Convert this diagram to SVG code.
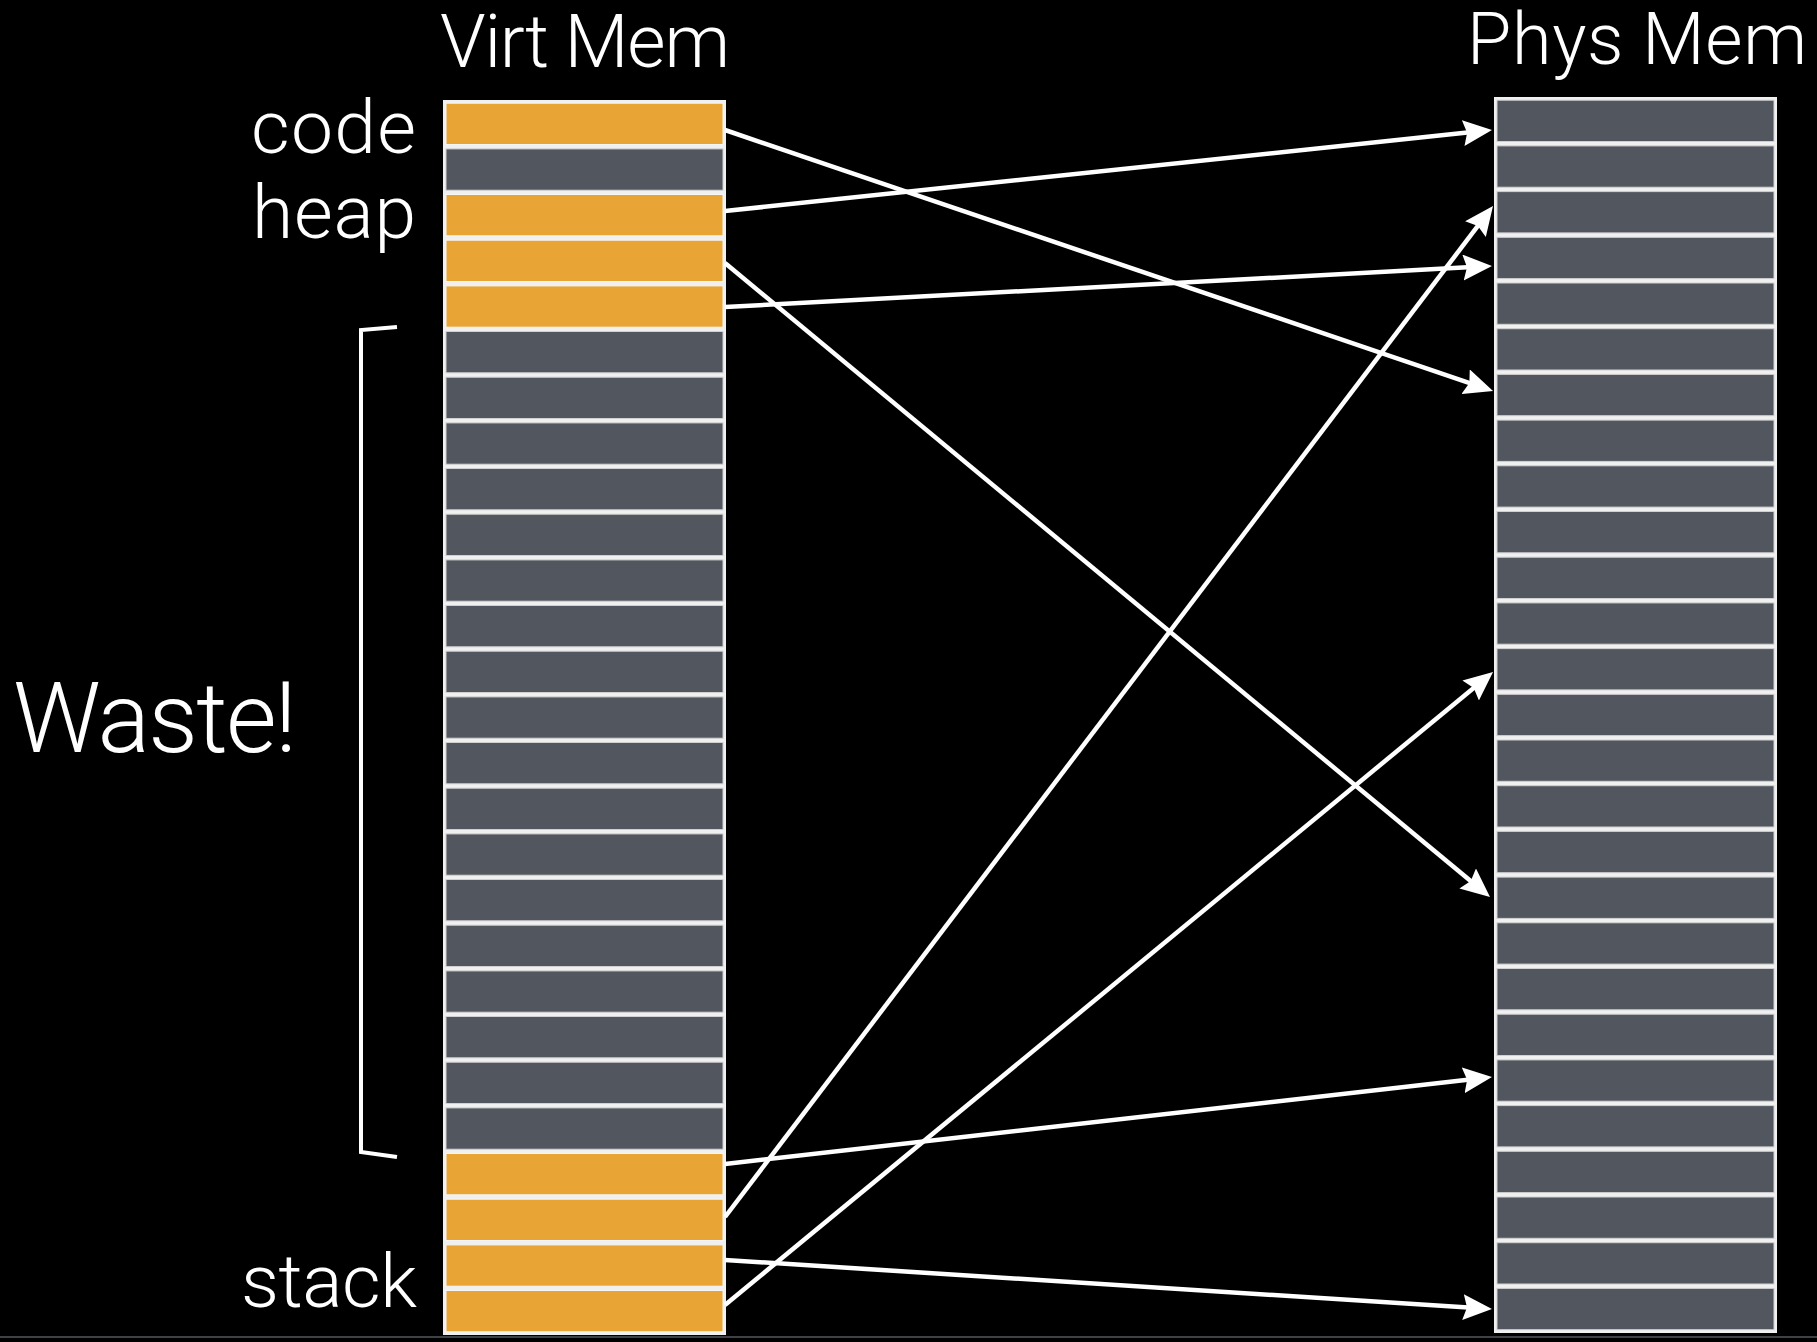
<svg xmlns="http://www.w3.org/2000/svg" width="1817" height="1342" viewBox="0 0 1817 1342">
<style>
.lbl{fill:#ffffff;font-family:Roboto,"Liberation Sans",sans-serif;font-weight:300}
.col{fill:#f0f0f0}
.o{fill:#E8A535;stroke:#f6f6f6;stroke-width:1}
.g{fill:#52575F;stroke:#d0d0d0;stroke-width:1}
.c{stroke:#ffffff;stroke-width:4.5;fill:none;marker-end:url(#ah)}
</style>
<defs>
<marker id="ah" markerUnits="userSpaceOnUse" markerWidth="29" markerHeight="26" viewBox="0 0 29 26" refX="9" refY="13" orient="auto">
<path d="M0,0 L29,13 L0,26 L4,13 z" fill="#ffffff"/>
</marker>
</defs>
<rect x="0" y="0" width="1817" height="1342" fill="#000000"/>
<rect x="0" y="1336" width="1817" height="2" fill="#3e4247"/>

<g id="virt-title"><text class="lbl" x="440" y="67" font-size="74" textLength="290">Virt Mem</text></g>
<g id="phys-title"><text class="lbl" x="1467" y="64" font-size="72" textLength="340">Phys Mem</text></g>
<g id="label-code"><text class="lbl" x="251" y="153" font-size="75" textLength="165">code</text></g>
<g id="label-heap"><text class="lbl" x="252" y="238" font-size="75" textLength="164">heap</text></g>
<g id="label-stack"><text class="lbl" x="241" y="1307" font-size="75" textLength="176">stack</text></g>
<g id="label-waste"><text class="lbl" x="13" y="752" font-size="98" textLength="284">Waste!</text></g>
<g id="waste-bracket"><path d="M397,327 L361,330 L361,1152 L397,1157" stroke="#ffffff" stroke-width="4" fill="none"/></g>

<g id="virt-mem">
<rect class="col" x="443" y="100" width="283" height="1235"/>
<rect class="o" x="446" y="103.2" width="277" height="41.3"/>
<rect class="g" x="446" y="148.9" width="277" height="41.3"/>
<rect class="o" x="446" y="194.5" width="277" height="41.3"/>
<rect class="o" x="446" y="240.2" width="277" height="41.3"/>
<rect class="o" x="446" y="285.9" width="277" height="41.3"/>
<rect class="g" x="446" y="331.5" width="277" height="41.3"/>
<rect class="g" x="446" y="377.2" width="277" height="41.3"/>
<rect class="g" x="446" y="422.9" width="277" height="41.3"/>
<rect class="g" x="446" y="468.5" width="277" height="41.3"/>
<rect class="g" x="446" y="514.2" width="277" height="41.3"/>
<rect class="g" x="446" y="559.9" width="277" height="41.3"/>
<rect class="g" x="446" y="605.5" width="277" height="41.3"/>
<rect class="g" x="446" y="651.2" width="277" height="41.3"/>
<rect class="g" x="446" y="696.9" width="277" height="41.3"/>
<rect class="g" x="446" y="742.5" width="277" height="41.3"/>
<rect class="g" x="446" y="788.2" width="277" height="41.3"/>
<rect class="g" x="446" y="833.9" width="277" height="41.3"/>
<rect class="g" x="446" y="879.5" width="277" height="41.3"/>
<rect class="g" x="446" y="925.2" width="277" height="41.3"/>
<rect class="g" x="446" y="970.9" width="277" height="41.3"/>
<rect class="g" x="446" y="1016.5" width="277" height="41.3"/>
<rect class="g" x="446" y="1062.2" width="277" height="41.3"/>
<rect class="g" x="446" y="1107.9" width="277" height="41.3"/>
<rect class="o" x="446" y="1153.5" width="277" height="41.3"/>
<rect class="o" x="446" y="1199.2" width="277" height="41.3"/>
<rect class="o" x="446" y="1244.9" width="277" height="41.3"/>
<rect class="o" x="446" y="1290.5" width="277" height="41.3"/>
</g>

<g id="phys-mem">
<rect class="col" x="1494" y="97" width="283" height="1236"/>
<rect class="g" x="1497" y="100.2" width="277" height="41.3"/>
<rect class="g" x="1497" y="145.9" width="277" height="41.3"/>
<rect class="g" x="1497" y="191.6" width="277" height="41.3"/>
<rect class="g" x="1497" y="237.3" width="277" height="41.3"/>
<rect class="g" x="1497" y="283.0" width="277" height="41.3"/>
<rect class="g" x="1497" y="328.7" width="277" height="41.3"/>
<rect class="g" x="1497" y="374.4" width="277" height="41.3"/>
<rect class="g" x="1497" y="420.1" width="277" height="41.3"/>
<rect class="g" x="1497" y="465.8" width="277" height="41.3"/>
<rect class="g" x="1497" y="511.5" width="277" height="41.3"/>
<rect class="g" x="1497" y="557.2" width="277" height="41.3"/>
<rect class="g" x="1497" y="602.9" width="277" height="41.3"/>
<rect class="g" x="1497" y="648.6" width="277" height="41.3"/>
<rect class="g" x="1497" y="694.3" width="277" height="41.3"/>
<rect class="g" x="1497" y="740.0" width="277" height="41.3"/>
<rect class="g" x="1497" y="785.7" width="277" height="41.3"/>
<rect class="g" x="1497" y="831.4" width="277" height="41.3"/>
<rect class="g" x="1497" y="877.1" width="277" height="41.3"/>
<rect class="g" x="1497" y="922.8" width="277" height="41.3"/>
<rect class="g" x="1497" y="968.5" width="277" height="41.3"/>
<rect class="g" x="1497" y="1014.2" width="277" height="41.3"/>
<rect class="g" x="1497" y="1059.9" width="277" height="41.3"/>
<rect class="g" x="1497" y="1105.6" width="277" height="41.3"/>
<rect class="g" x="1497" y="1151.3" width="277" height="41.3"/>
<rect class="g" x="1497" y="1197.0" width="277" height="41.3"/>
<rect class="g" x="1497" y="1242.7" width="277" height="41.3"/>
<rect class="g" x="1497" y="1288.4" width="277" height="41.3"/>
</g>

<g id="connectors">
<line class="c" x1="725" y1="130" x2="1474.1" y2="384.6"/>
<line class="c" x1="725" y1="211" x2="1472.1" y2="132.1"/>
<line class="c" x1="725" y1="263" x2="1474.6" y2="884.2"/>
<line class="c" x1="725" y1="307" x2="1472.0" y2="267.1"/>
<line class="c" x1="725" y1="1164" x2="1472.1" y2="1079.3"/>
<line class="c" x1="725" y1="1217" x2="1480.9" y2="221.9"/>
<line class="c" x1="725" y1="1260" x2="1472.0" y2="1307.7"/>
<line class="c" x1="725" y1="1305" x2="1477.6" y2="684.7"/>
</g>
</svg>
